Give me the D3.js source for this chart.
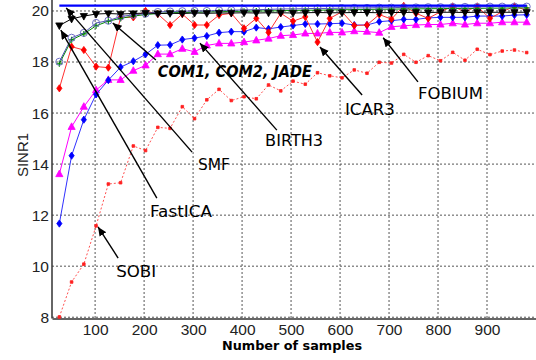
<!DOCTYPE html>
<html><head><meta charset="utf-8">
<script src="https://cdn.jsdelivr.net/npm/d3@7"></script>
<style>html,body{margin:0;padding:0;background:#fff}svg{display:block}</style>
</head><body><svg id="c" width="536" height="360"></svg>
<script>
const samples = [27,52,77,102,127,152,178,203,228,253,278,303,328,353,378,404,429,454,479,504,529,554,579,604,629,655,680,705,730,755,780,805,830,855,880,906,931,956,981];
const bound = 20.21;
const smf = [19.43,19.69,19.8,19.88,19.9,19.88,19.9,19.92,19.9,19.91,19.9,19.92,19.91,19.92,19.92,19.93,19.92,19.93,19.93,19.92,19.93,19.94,19.93,19.93,19.94,19.94,19.93,19.94,19.94,19.95,19.94,19.95,19.95,19.94,19.95,19.95,19.95,19.95,19.95];
const com1 = [17.93,18.87,19.1,19.42,19.6,19.71,19.8,19.86,19.9,19.93,19.94,19.95,19.96,19.97,19.98,19.99,20.0,20.0,20.01,20.02,20.03,20.03,20.04,20.05,20.05,20.06,20.07,20.07,20.08,20.08,20.09,20.09,20.1,20.1,20.1,20.11,20.11,20.12,20.12];
const com2 = [18.01,18.95,19.14,19.53,19.62,19.78,19.85,19.9,19.96,19.98,19.99,20.0,20.0,20.02,20.03,20.04,20.05,20.06,20.08,20.08,20.09,20.1,20.1,20.11,20.12,20.12,20.13,20.13,20.14,20.14,20.15,20.15,20.16,20.16,20.16,20.17,20.17,20.17,20.17];
const icar3 = [16.97,18.6,18.47,17.82,17.78,19.75,19.75,20.0,19.88,19.45,19.88,19.45,19.45,19.84,19.91,19.32,19.71,19.16,19.91,19.6,19.77,18.78,19.71,19.97,19.43,19.45,19.86,19.68,20.2,19.91,19.71,19.97,20.18,19.97,20.18,19.71,19.97,20.18,20.03];
const birth3 = [11.67,14.33,15.74,16.73,17.29,17.8,18.03,18.3,18.66,18.67,18.88,18.94,19.02,19.15,19.19,19.19,19.35,19.3,19.37,19.43,19.49,19.49,19.5,19.52,19.45,19.45,19.58,19.62,19.67,19.67,19.73,19.75,19.75,19.75,19.8,19.8,19.8,19.84,19.85];
const fobium = [13.61,15.46,16.25,16.9,17.3,17.3,17.66,17.87,18.31,18.31,18.52,18.4,18.65,18.73,18.73,18.78,18.85,18.92,19.03,19.06,19.12,19.12,19.16,19.16,19.21,19.19,19.15,19.38,19.42,19.45,19.47,19.47,19.52,19.47,19.52,19.52,19.56,19.56,19.56];
const sobi = [8.01,9.38,10.08,11.58,13.22,13.27,14.71,14.53,15.44,15.4,16.25,15.78,16.52,16.93,16.49,16.64,16.56,17.1,16.87,17.25,17.13,17.58,17.46,17.38,17.69,17.56,17.99,17.96,18.3,17.99,18.25,18.05,18.38,18.07,18.5,18.29,18.43,18.47,18.37];
const xTicks = [100,200,300,400,500,600,700,800,900];
const yTicks = [8,10,12,14,16,18,20];
const annLabels = ["COM1, COM2, JADE","SMF","FastICA","BIRTH3","ICAR3","FOBIUM","SOBI"];
// arrow tail/head and label anchor in data units
const annTail = [[224,18.08],[298,14.47],[226,12.67],[471,15.33],[645,16.71],[759,17.22],[147,10.32]];
const annHead = [[136,19.53],[41,20.12],[30,19.25],[314,18.74],[559,18.59],[688,18.95],[106,11.54]];
const annText = [[228,17.41],[310,13.77],[212,11.93],[447,14.69],[610,15.94],[759,16.57],[143,9.58]];
const annWidth = [154,32,62,58,50,65,40];

const svg = d3.select("#c");
const x = d3.scaleLinear().domain([12,1000]).range([52,536]);
const y = d3.scaleLinear().domain([7.95,20.43]).range([318.5,0]);

// grid
const g = svg.append("g");
g.selectAll(".vx").data(xTicks).join("line")
 .attr("x1",d=>x(d)).attr("x2",d=>x(d)).attr("y1",0).attr("y2",318)
 .attr("stroke","#555").attr("stroke-dasharray","2,2").attr("stroke-width",1);
g.selectAll(".hy").data(yTicks).join("line")
 .attr("x1",52).attr("x2",536).attr("y1",d=>y(d)).attr("y2",d=>y(d))
 .attr("stroke","#555").attr("stroke-dasharray","2,2").attr("stroke-width",1);

// axes
const xa = svg.append("g").attr("transform","translate(0,318.5)")
 .call(d3.axisBottom(x).tickValues(xTicks).tickSize(0).tickPadding(5));
const ya = svg.append("g").attr("transform","translate(52,0)")
 .call(d3.axisLeft(y).tickValues(yTicks).tickSize(0).tickPadding(3));
[xa,ya].forEach(a=>{a.select(".domain").attr("stroke","#333").attr("stroke-width",1.5);
 a.selectAll("text").attr("font-family","Liberation Sans, Arial, sans-serif").attr("font-size",15.5).attr("fill","#222");});
ya.select(".domain").attr("d","M0,0V0.5H0V318.5");

const plot = svg.append("g");
const line = vals => d3.line().x((d,i)=>x(samples[i])).y(d=>y(d))(vals);

function series(vals, color, opts){
  plot.append("path").attr("d",line(vals)).attr("fill","none")
   .attr("stroke",opts.lineColor||color).attr("stroke-width",opts.lw||1)
   .attr("stroke-dasharray",opts.dash||null);
  const sym = opts.sym;
  if(!sym) return;
  plot.append("g").selectAll("path").data(vals).join("path")
   .attr("transform",(d,i)=>`translate(${x(samples[i])},${y(d)})`)
   .attr("d",sym)
   .attr("fill",opts.fill===undefined?color:opts.fill)
   .attr("stroke",opts.stroke||color).attr("stroke-width",opts.sw||0.8);
}
const diamond = "M0,-3.6L2.6,0L0,3.6L-2.6,0Z";
const triUp = "M0,-4L3.6,2.6L-3.6,2.6Z";
const triDown = "M0,4L3.6,-2.6L-3.6,-2.6Z";
const circle = d3.symbol(d3.symbolCircle,40)();
const plus = "M-3,0H3M0,-3V3";
const square = "M-1.3,-1.3H1.3V1.3H-1.3Z";

series(sobi,"#ff2020",{lineColor:"#ff5050",dash:"2,2",sym:square});
series(fobium,"#ff00ff",{sym:triUp});
series(birth3,"#0000ff",{lineColor:"#3030ff",sym:diamond});
series(icar3,"#ff0000",{lineColor:"#ff3030",sym:diamond});
series(com1,"#008a00",{sym:plus,fill:"none",sw:1.2});
series(com2,"#7070c8",{lineColor:"#5050b0",sym:circle,fill:"none",sw:1});
series(smf,"#000000",{sym:triDown});
plot.append("path").attr("d",line(samples.map(()=>bound))).attr("fill","none")
 .attr("stroke","#0000ff").attr("stroke-width",2.2);

// annotations
const defs = svg.append("defs");
defs.append("marker").attr("id","ah").attr("markerUnits","userSpaceOnUse")
 .attr("markerWidth",12).attr("markerHeight",12).attr("refX",9).attr("refY",4)
 .attr("orient","auto").append("path").attr("d","M0,0L9,4L0,8Z").attr("fill","#000");
const ann = svg.append("g");
annLabels.forEach((t,i)=>{
  ann.append("line").attr("x1",x(annTail[i][0])).attr("y1",y(annTail[i][1]))
   .attr("x2",x(annHead[i][0])).attr("y2",y(annHead[i][1]))
   .attr("stroke","#000").attr("stroke-width",1.4).attr("marker-end","url(#ah)");
  ann.append("text").attr("x",x(annText[i][0])).attr("y",y(annText[i][1]))
   .attr("font-family","DejaVu Sans, sans-serif").attr("font-size",15)
   .attr("font-weight",i===0?"bold":"normal").attr("font-style",i===0?"italic":"normal")
   .attr("textLength",annWidth[i]).attr("lengthAdjust","spacingAndGlyphs")
   .attr("fill","#000").text(t);
});

svg.append("text").attr("x",292).attr("y",350).attr("text-anchor","middle")
 .attr("font-family","DejaVu Sans, sans-serif").attr("font-size",13).attr("font-weight","bold")
 .attr("textLength",140).attr("lengthAdjust","spacingAndGlyphs").text("Number of samples");
svg.append("text").attr("transform","translate(28,155) rotate(-90)").attr("text-anchor","middle")
 .attr("font-family","Liberation Sans, Arial, sans-serif").attr("font-size",15).attr("fill","#222")
 .text("SINR1");
</script></body></html>
